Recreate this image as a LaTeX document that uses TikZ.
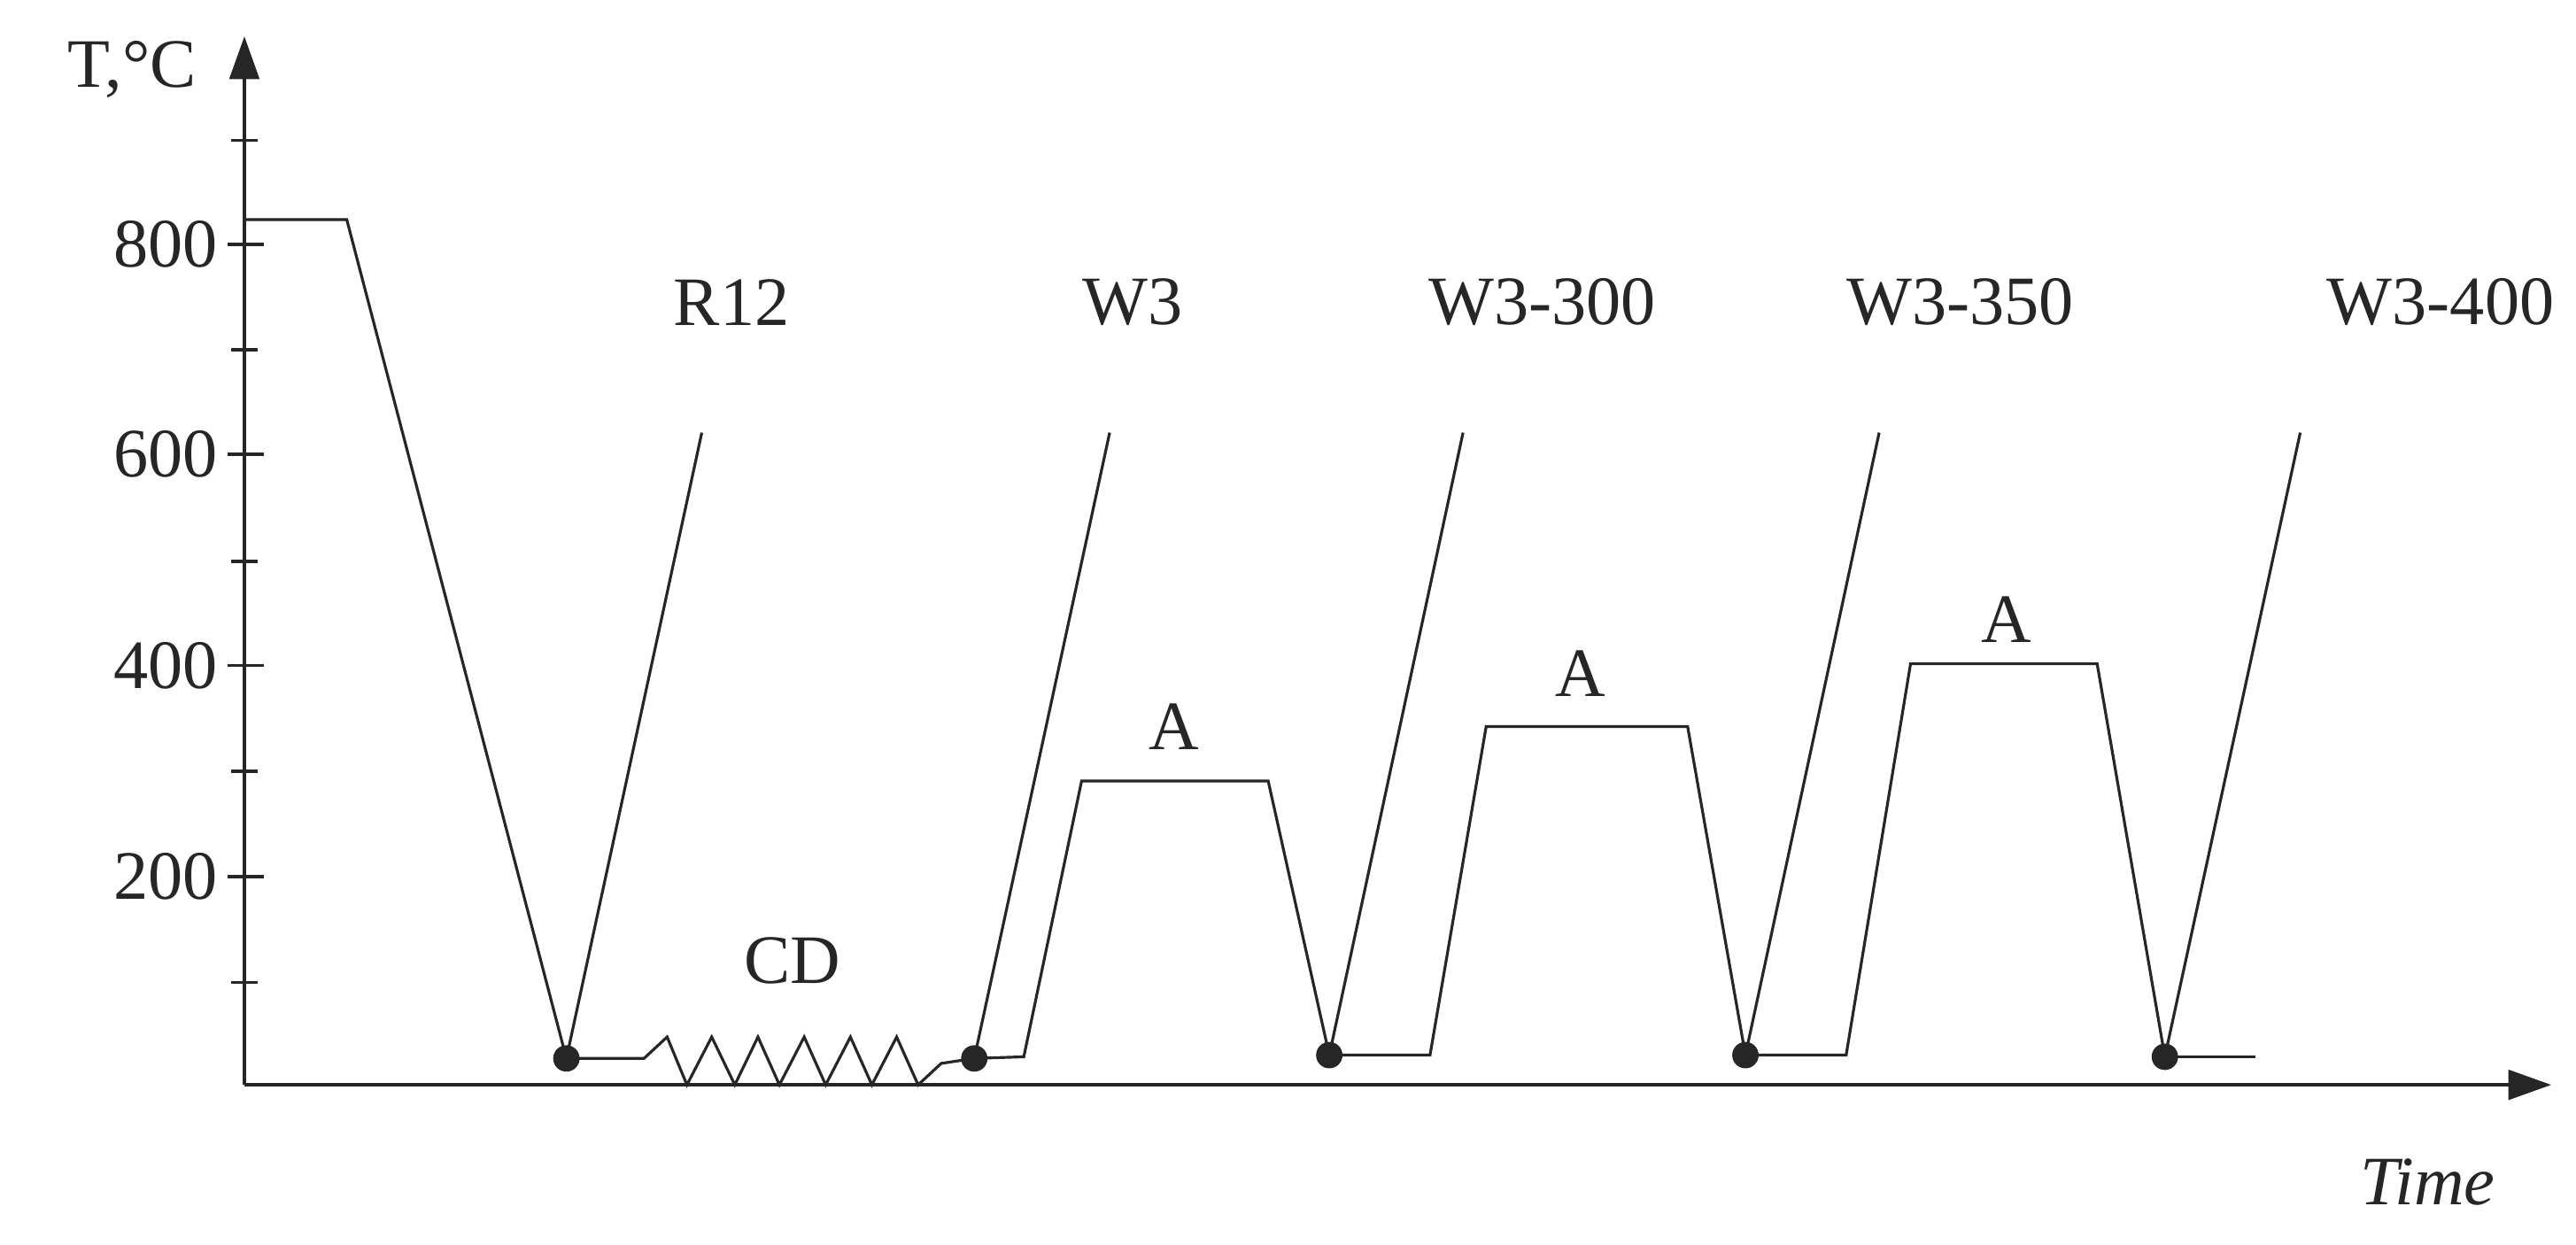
\documentclass[tikz,border=0pt]{standalone}
\usepackage{fontspec}
\setmainfont{Liberation Serif}
\usetikzlibrary{arrows.meta}
\begin{document}
\begin{tikzpicture}[x=1pt,y=-1pt,
  axis/.style={line width=2pt,color=black!85},
  curve/.style={line width=1.7pt,color=black!85},
  lbl/.style={font=\fontsize{42}{48}\selectfont,text=black!85,inner sep=0pt},
  dotm/.style={circle,fill=black!85,inner sep=0pt,minimum size=16pt}]
\useasboundingbox (0,0) rectangle (1560,753.5);
% axes
\coordinate (O) at (148,657);
\coordinate (yt) at (148,22);
\coordinate (xt) at (1545,657);
\draw[axis,-{Triangle[length=26pt,width=18pt]}] (O) -- (yt);
\draw[axis,-{Triangle[length=26pt,width=18pt]}] (O) -- (xt);
\foreach \y/\t in {148/800,275/600,403/400,531/200}{
  \draw[axis] (138,\y) -- (160,\y);
  \node[lbl,anchor=east] (t\t) at (132,\y) {\t};}
\foreach \y in {85,212,340,467,595}{\draw[axis] (140,\y) -- (156,\y);}
\node[lbl] (ylab) at (80,42) {T,°C};
\node[lbl,font=\fontsize{42}{48}\selectfont\itshape] (xlab) at (1470,716) {Time};
% dots
\node[dotm] (d1) at (343,641) {};
\node[dotm] (d2) at (590,641) {};
\node[dotm] (d3) at (805,639) {};
\node[dotm] (d4) at (1057,639) {};
\node[dotm] (d5) at (1311,640) {};
% main curve
\draw[curve] (148,133) -- (210,133) -- (d1.center);
\draw[curve] (d1.center) -- (425,262);
\draw[curve] (d1.center) -- (390,641) -- (404,628) -- (416,657)
  -- (431,628) -- (445,657) -- (459,628) -- (472,657) -- (487,628) -- (500,657)
  -- (515,628) -- (528,657) -- (543,628) -- (556,657) -- (570,644) -- (d2.center);
\draw[curve] (d2.center) -- (672,262);
\draw[curve] (d2.center) -- (620,640) -- (655,473) -- (768,473) -- (d3.center);
\draw[curve] (d3.center) -- (886,262);
\draw[curve] (d3.center) -- (866,639) -- (900,440) -- (1022,440) -- (d4.center);
\draw[curve] (d4.center) -- (1138,262);
\draw[curve] (d4.center) -- (1118,639) -- (1157,402) -- (1270,402) -- (d5.center);
\draw[curve] (d5.center) -- (1393,262);
\draw[curve] (d5.center) -- (1366,640);
% labels
\node[lbl] (r12) at (443,183) {R12};
\node[lbl] (w3) at (686,183) {W3};
\node[lbl] (w300) at (934,183) {W3-300};
\node[lbl] (w350) at (1187,183) {W3-350};
\node[lbl] (w400) at (1478,183) {W3-400};
\node[lbl] (a1) at (711,440) {A};
\node[lbl] (a2) at (957,408) {A};
\node[lbl] (a3) at (1215,375) {A};
\node[lbl] (cd) at (480,582) {CD};
\end{tikzpicture}
\end{document}
